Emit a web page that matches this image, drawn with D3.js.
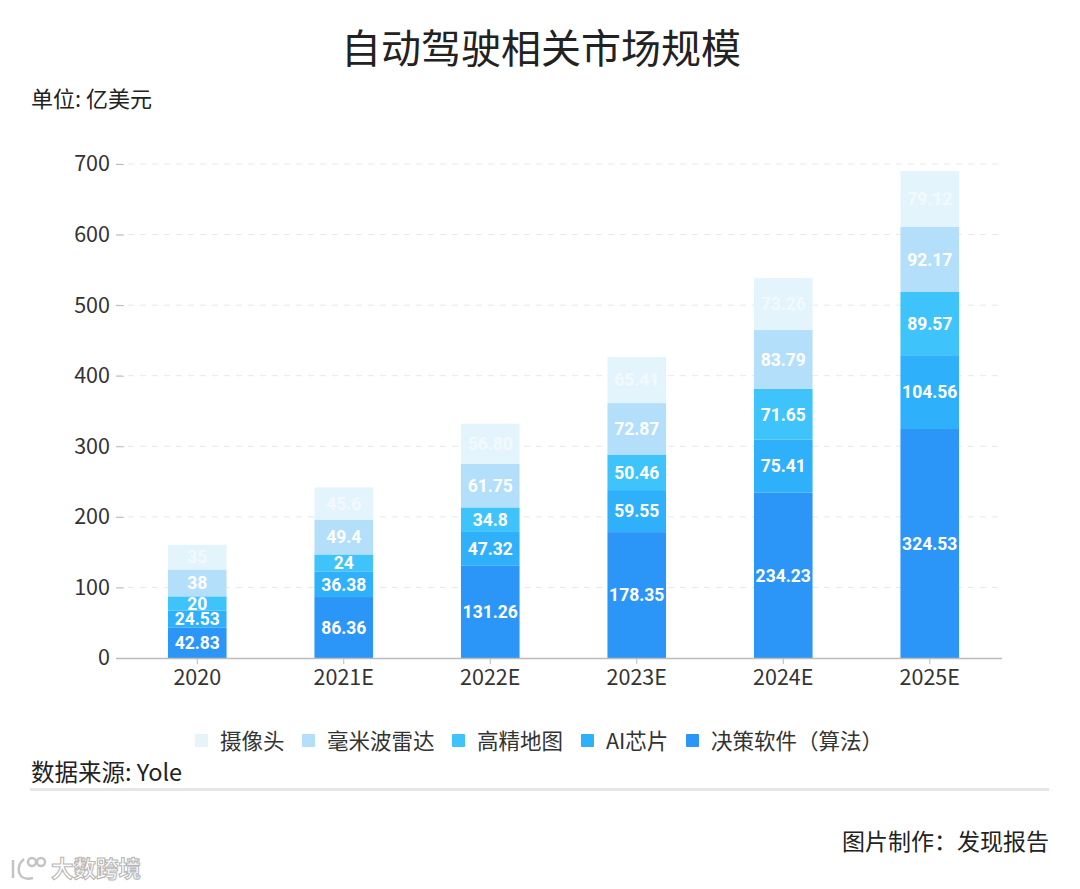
<!DOCTYPE html>
<html>
<head>
<meta charset="utf-8">
<script src="https://cdn.jsdelivr.net/npm/d3@7"></script>
<style>
    html, body { margin: 0; padding: 0; background: #fff; }
    svg { display: block; }
    text { font-family: "Noto Sans CJK SC", "Noto Sans", sans-serif; fill: #222; }
    .axis text { font-size: 21.5px; fill: #333; }
    .grid line { stroke: #e8e8e8; stroke-dasharray: 6 6; }
    .val { font-family: "Roboto", sans-serif; font-weight: 700; font-size: 17.5px; fill: #fff; text-anchor: middle; }
</style>
</head>
<body>
<div id="chart"></div>
<script>
    var width = 1080, height = 889;

    var years = ["2020", "2021E", "2022E", "2023E", "2024E", "2025E"];
    var software = [42.83, 86.36, 131.26, 178.35, 234.23, 324.53];
    var aiChip = [24.53, 36.38, 47.32, 59.55, 75.41, 104.56];
    var hdMap = [20, 24, 34.8, 50.46, 71.65, 89.57];
    var radar = [38, 49.4, 61.75, 72.87, 83.79, 92.17];
    var camera = [35, 45.6, 56.8, 65.41, 73.26, 79.12];
    var yTicks = [0, 100, 200, 300, 400, 500, 600, 700];

    // bottom of the stack first
    var seriesNames = ["决策软件（算法）", "AI芯片", "高精地图", "毫米波雷达", "摄像头"];
    var seriesValues = [software, aiChip, hdMap, radar, camera];
    var colors = ["#2b96f7", "#2eb0fa", "#3fc3fb", "#b3dffa", "#e4f4fc"];
    var legendColors = ["#2b96f7", "#2eb0fa", "#3fc3fb", "#b3dffa", "#e6f3f8"];

    var rows = years.map(function (y, i) {
        var row = { year: y };
        seriesNames.forEach(function (n, j) { row[n] = seriesValues[j][i]; });
        return row;
    });
    var stacked = d3.stack().keys(seriesNames)(rows);

    var svg = d3.select("#chart").append("svg")
        .attr("width", width)
        .attr("height", height);

    var x = d3.scaleBand().domain(years).range([124, 1003]).paddingInner(0.6).paddingOuter(0.3);
    var y = d3.scaleLinear().domain([0, 700]).range([658, 164]);

    // grid
    svg.append("g").attr("class", "grid")
        .selectAll("line")
        .data(yTicks.slice(1))
        .enter().append("line")
        .attr("x1", 116).attr("x2", 1002)
        .attr("y1", function (d) { return y(d); })
        .attr("y2", function (d) { return y(d); });

    // bars
    var layer = svg.selectAll("g.layer")
        .data(stacked)
        .enter().append("g")
        .attr("class", "layer")
        .attr("fill", function (d, i) { return colors[i]; });

    layer.selectAll("rect")
        .data(function (d) { return d; })
        .enter().append("rect")
        .attr("x", function (d) { return x(d.data.year); })
        .attr("width", x.bandwidth())
        .attr("y", function (d) { return y(d[1]); })
        .attr("height", function (d) { return y(d[0]) - y(d[1]); });

    layer.selectAll("text")
        .data(function (d) { return d; })
        .enter().append("text")
        .attr("class", "val")
        .attr("x", function (d) { return x(d.data.year) + x.bandwidth() / 2; })
        .attr("y", function (d) { return (y(d[0]) + y(d[1])) / 2; })
        .attr("dy", "0.36em")
        .text(function (d) {
            var v = +(d[1] - d[0]).toFixed(2);
            return v === 56.8 ? "56.80" : v;
        });

    // white on the palest band nearly disappears in the picture
    layer.filter(function (d) { return d.key === "摄像头"; })
        .selectAll("text").style("fill-opacity", 0.55);

    // axes
    var yAxis = svg.append("g").attr("class", "axis")
        .attr("transform", "translate(124,0)")
        .call(d3.axisLeft(y).tickValues(yTicks).tickSize(8).tickPadding(6));
    yAxis.select(".domain").remove();
    yAxis.selectAll("line").attr("stroke", "#bbb");

    var xAxis = svg.append("g").attr("class", "axis")
        .attr("transform", "translate(0,658)")
        .call(d3.axisBottom(x).tickSize(6).tickPadding(6).tickSizeOuter(0));
    xAxis.select(".domain").attr("stroke", "#bbb").attr("stroke-width", 1.5).attr("d", "M116,0.5H1002");
    xAxis.selectAll("line").attr("stroke", "#bbb");

    // titles
    svg.append("text").attr("x", 541).attr("y", 63).attr("text-anchor", "middle")
        .style("font-size", "40px").text("自动驾驶相关市场规模");
    svg.append("text").attr("x", 31).attr("y", 107).style("font-size", "22px").text("单位: 亿美元");

    // legend, same order as the picture
    var legendX = [195, 302, 452, 581, 686];
    var legend = svg.selectAll("g.legend")
        .data(seriesNames.slice().reverse())
        .enter().append("g")
        .attr("class", "legend")
        .attr("transform", function (d, i) { return "translate(" + legendX[i] + ",734)"; });
    legend.append("rect")
        .attr("width", 13).attr("height", 13).attr("rx", 1)
        .attr("fill", function (d) { return legendColors[seriesNames.indexOf(d)]; });
    legend.append("text").attr("x", 25).attr("y", 14.5)
        .style("font-size", "21.5px").style("fill", "#333")
        .text(function (d) { return d; });

    // footer
    svg.append("text").attr("x", 31).attr("y", 781).style("font-size", "23.5px").text("数据来源: Yole");
    svg.append("rect").attr("x", 30).attr("y", 788).attr("width", 1019).attr("height", 3).attr("fill", "#e6e6e6");
    svg.append("text").attr("x", 1049).attr("y", 850).attr("text-anchor", "end")
        .style("font-size", "23px").text("图片制作：发现报告");

    // watermark
    svg.append("text").attr("x", 51).attr("y", 877)
        .style("font-size", "22.5px").style("font-weight", 700)
        .style("fill", "#fff").style("stroke", "#b8b8b8").style("stroke-width", 1.1)
        .text("大数跨境");
    var mark = svg.append("g").attr("fill", "none").attr("stroke", "#c4c4c4").attr("stroke-width", 2.5);
    mark.append("path").attr("d", "M13 860 V878 M24 859 C15 866 17 882 33 878");
    mark.append("circle").attr("cx", 32).attr("cy", 862).attr("r", 4);
    mark.append("circle").attr("cx", 41).attr("cy", 862).attr("r", 4);
</script>
</body>
</html>
